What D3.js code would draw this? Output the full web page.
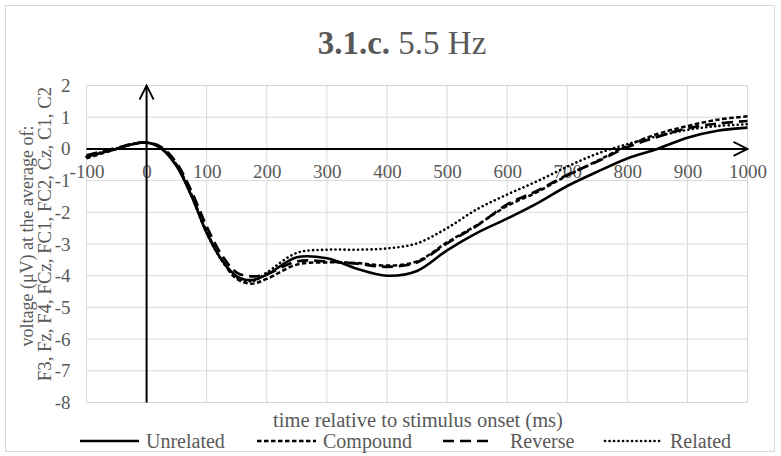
<!DOCTYPE html>
<html><head><meta charset="utf-8">
<script src="https://cdn.jsdelivr.net/npm/d3@7"></script>
<style>body{margin:0;background:#fff}svg{display:block}</style>
</head><body><svg id="c" width="781" height="456"></svg>
<script>
const times = [-100,-75,-50,-25,0,25,50,75,100,125,150,175,200,250,300,350,400,450,500,550,600,650,700,750,800,850,900,950,1000];
const unrelated = [-0.25,-0.12,0.0,0.14,0.2,0.0,-0.55,-1.5,-2.65,-3.5,-4.02,-4.14,-3.97,-3.42,-3.45,-3.78,-4.0,-3.85,-3.2,-2.65,-2.2,-1.72,-1.17,-0.72,-0.3,0.0,0.35,0.57,0.67];
const compound = [-0.3,-0.15,0.0,0.14,0.2,0.02,-0.5,-1.45,-2.6,-3.5,-4.1,-4.25,-4.1,-3.65,-3.58,-3.6,-3.68,-3.55,-2.95,-2.4,-1.8,-1.36,-0.84,-0.38,0.1,0.47,0.72,0.92,1.03];
const reverse = [-0.2,-0.08,0.03,0.15,0.2,0.05,-0.45,-1.35,-2.45,-3.35,-3.9,-4.02,-3.95,-3.55,-3.55,-3.62,-3.72,-3.58,-2.98,-2.42,-1.75,-1.32,-0.82,-0.4,0.05,0.38,0.65,0.8,0.88];
const related = [-0.25,-0.1,0.02,0.15,0.2,0.02,-0.52,-1.5,-2.65,-3.52,-4.05,-4.18,-3.9,-3.28,-3.18,-3.18,-3.14,-2.98,-2.5,-1.9,-1.44,-1.02,-0.56,-0.15,0.15,0.4,0.6,0.72,0.78];
const xTicks = [-100,0,100,200,300,400,500,600,700,800,900,1000];
const yTicks = [2,1,0,-1,-2,-3,-4,-5,-6,-7,-8];
const seriesNames = ["Unrelated","Compound","Reverse","Related"];
const title1 = "3.1.c.", title2 = " 5.5 Hz";
const xTitle = "time relative to stimulus onset (ms)";
const yTitle1 = "voltage (\u03bcV) at the average of:";
const yTitle2 = "F3, Fz, F4, FCz, FC1, FC2, Cz, C1, C2";

const FONT = '"Liberation Serif", "Times New Roman", Times, "DejaVu Serif", serif';
const series = [
  {name: seriesNames[0], values: unrelated, dash: null, w: 2.6, cap: "butt"},
  {name: seriesNames[1], values: compound, dash: "4.5,2.5", w: 2.5, cap: "butt"},
  {name: seriesNames[2], values: reverse, dash: "11,6", w: 2.7, cap: "butt"},
  {name: seriesNames[3], values: related, dash: "0.1,4.4", w: 2.6, cap: "round"}
];

const svg = d3.select("#c");
const grey = "#595959";
svg.append("rect").attr("x",5.5).attr("y",5.5).attr("width",769).attr("height",446).attr("fill","#fff").attr("stroke","#d9d9d9");

const x = d3.scaleLinear().domain([-100,1000]).range([86.5,747.5]);
const y = d3.scaleLinear().domain([-8,2]).range([402.5,85.5]);

// grid
const g = svg.append("g");
g.selectAll(".vg").data(xTicks).join("line").attr("x1",d=>x(d)).attr("x2",d=>x(d)).attr("y1",y(2)).attr("y2",y(-8)).attr("stroke","#d9d9d9").attr("stroke-width",1);
g.selectAll(".hg").data(yTicks).join("line").attr("y1",d=>y(d)).attr("y2",d=>y(d)).attr("x1",x(-100)).attr("x2",x(1000)).attr("stroke","#d9d9d9").attr("stroke-width",1);

// tick labels
const fmt = d => String(d);
const xa = svg.append("g").attr("transform",`translate(0,${y(0)})`).call(d3.axisBottom(x).tickValues(xTicks).tickFormat(fmt).tickSize(0).tickPadding(16));
xa.attr("font-family",FONT).attr("font-size",19);
xa.select(".domain").remove();
xa.selectAll("text").attr("fill",grey);
const ya = svg.append("g").attr("transform",`translate(${x(-100)},0)`).call(d3.axisLeft(y).tickValues(yTicks).tickFormat(fmt).tickSize(0).tickPadding(16));
ya.attr("font-family",FONT).attr("font-size",19);
ya.select(".domain").remove();
ya.selectAll("text").attr("fill",grey);

// axis lines with arrows
svg.append("line").attr("x1",x(-100)).attr("x2",x(1000)).attr("y1",y(0)).attr("y2",y(0)).attr("stroke","#000").attr("stroke-width",2);
svg.append("line").attr("x1",x(0)).attr("x2",x(0)).attr("y1",y(-8)).attr("y2",y(2)).attr("stroke","#000").attr("stroke-width",2);
svg.append("path").attr("d",`M${x(0)-7},${y(2)+14} L${x(0)},${y(2)} L${x(0)+7},${y(2)+14}`).attr("fill","none").attr("stroke","#000").attr("stroke-width",1.8);
svg.append("path").attr("d",`M${x(1000)-14},${y(0)-7} L${x(1000)},${y(0)} L${x(1000)-14},${y(0)+7}`).attr("fill","none").attr("stroke","#000").attr("stroke-width",1.8);

// series
const line = d3.line().x((d,i)=>x(times[i])).y(d=>y(d)).curve(d3.curveCatmullRom.alpha(0.5));
svg.selectAll(".s").data(series).join("path").attr("d",d=>line(d.values)).attr("fill","none").attr("stroke","#000")
  .attr("stroke-width",d=>d.w).attr("stroke-dasharray",d=>d.dash).attr("stroke-linecap",d=>d.cap);

// title
const t = svg.append("text").attr("x",402).attr("y",54).attr("text-anchor","middle").attr("fill",grey).attr("font-family",FONT).attr("font-size",33);
t.append("tspan").attr("font-weight","bold").text(title1);
t.append("tspan").text(title2);

// axis titles
svg.append("text").attr("x",418).attr("y",427).attr("text-anchor","middle").attr("fill",grey).attr("font-family",FONT).attr("font-size",20.5).text(xTitle);
svg.append("text").attr("transform",`translate(33,236) rotate(-90)`).attr("text-anchor","middle").attr("fill",grey).attr("font-family",FONT).attr("font-size",18).text(yTitle1);
svg.append("text").attr("transform",`translate(51,234) rotate(-90)`).attr("text-anchor","middle").attr("fill",grey).attr("font-family",FONT).attr("font-size",18.8).text(yTitle2);

// legend
const legX = [80, 257, 443, 605];
const legLen = [59, 59, 48, 58];
const lg = svg.selectAll(".lg").data(series).join("g").attr("transform",(d,i)=>`translate(${legX[i]},441)`);
lg.append("line").attr("x1",0).attr("x2",(d,i)=>legLen[i]).attr("y1",0).attr("y2",0).attr("stroke","#000")
  .attr("stroke-width",d=>d.w).attr("stroke-dasharray",d=>d.dash).attr("stroke-linecap",d=>d.cap);
lg.append("text").attr("x",(d,i)=>legLen[i] + (i===2?19:7)).attr("y",7).attr("fill",grey).attr("font-family",FONT).attr("font-size",20).text(d=>d.name);
</script></body></html>
